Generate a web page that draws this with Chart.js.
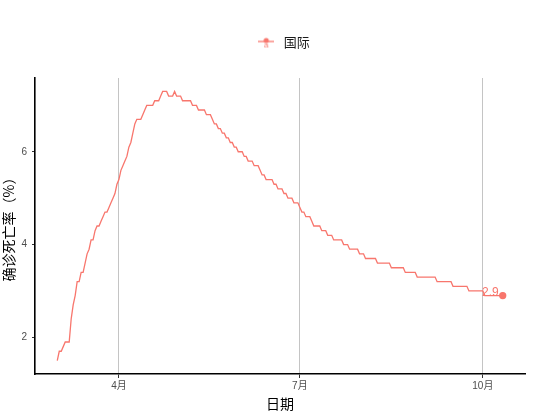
<!DOCTYPE html>
<html>
<head>
<meta charset="utf-8">
<script src="https://cdn.jsdelivr.net/npm/chart.js@4/dist/chart.umd.min.js"></script>
<style>
html,body{margin:0;padding:0;background:#fff;}
</style>
</head>
<body>
<canvas id="cfrChart" width="550" height="412"></canvas>
<script>
// 确诊死亡率（%）, 国际, daily from 3月1日 (day 0)
const seriesName = "国际";
const rateMar = [1.5,1.7,1.7,1.8,1.9,1.9,1.9,2.4,2.7,2.9,3.2,3.2,3.4,3.4,3.6,3.8,3.9,4.1,4.1,4.3,4.4,4.4,4.5,4.6,4.7,4.7,4.8,4.9,5.0,5.1,5.3];
const rateApr = [5.4,5.6,5.7,5.8,5.9,6.1,6.2,6.4,6.6,6.7,6.7,6.7,6.8,6.9,7.0,7.0,7.0,7.0,7.1,7.1,7.1,7.2,7.3,7.3,7.3,7.2,7.2,7.2,7.3,7.2];
const rateMay = [7.2,7.2,7.1,7.1,7.1,7.1,7.1,7.0,7.0,7.0,6.9,6.9,6.9,6.9,6.8,6.8,6.8,6.7,6.6,6.6,6.5,6.5,6.4,6.4,6.3,6.3,6.2,6.2,6.1,6.1,6.0];
const rateJun = [6.0,6.0,5.9,5.9,5.8,5.8,5.8,5.7,5.7,5.7,5.6,5.5,5.5,5.4,5.4,5.4,5.4,5.3,5.3,5.2,5.2,5.2,5.1,5.1,5.0,5.0,5.0,4.9,4.9,4.9];
const rateJul = [4.8,4.7,4.7,4.6,4.6,4.6,4.5,4.4,4.4,4.4,4.4,4.3,4.3,4.3,4.2,4.2,4.2,4.1,4.1,4.1,4.1,4.1,4.0,4.0,4.0,3.9,3.9,3.9,3.9,3.9,3.8];
const rateAug = [3.8,3.8,3.7,3.7,3.7,3.7,3.7,3.7,3.6,3.6,3.6,3.6,3.6,3.6,3.6,3.5,3.5,3.5,3.5,3.5,3.5,3.5,3.4,3.4,3.4,3.4,3.4,3.4,3.3,3.3,3.3];
const rateSep = [3.3,3.3,3.3,3.3,3.3,3.3,3.3,3.2,3.2,3.2,3.2,3.2,3.2,3.2,3.2,3.1,3.1,3.1,3.1,3.1,3.1,3.1,3.1,3.0,3.0,3.0,3.0,3.0,3.0,3.0];
const rateOct = [3.0,2.9,2.9,2.9,2.9,2.9,2.9,2.9,2.9,2.9,2.9];

const monthTicks = [31, 122, 214];   // 4月1日, 7月1日, 10月1日 as day numbers
const monthLabels = ["4月", "7月", "10月"];
const yTicks = [2, 4, 6];

const RED = "#F8766D";
const rate = [].concat(rateMar, rateApr, rateMay, rateJun, rateJul, rateAug, rateSep, rateOct);
const points = rate.map((v, i) => ({x: i, y: v}));
const last = rate.length - 1;

// ggplot-ish padding of 5% around the data
const xPad = last * 0.05;
const yMin = Math.min(...rate), yMax = Math.max(...rate);
const yPad = (yMax - yMin) * 0.05;

// legend key: line + point + "a"
const key = document.createElement("canvas");
key.width = 16; key.height = 14;
(function(){
    const c = key.getContext("2d");
    c.strokeStyle = RED; c.lineWidth = 1.3;
    c.beginPath(); c.moveTo(0, 6); c.lineTo(16, 6); c.stroke();
    c.fillStyle = RED;
    c.beginPath(); c.arc(8, 5, 2.6, 0, Math.PI*2); c.fill();
    c.font = "8px 'Liberation Sans'"; c.textAlign = "center"; c.textBaseline = "middle";
    c.fillText("a", 8, 10);
})();

const legendTweak = {
    id: "legendTweak",
    afterInit(chart){
        const lg = chart.legend;
        const fit = lg.fit;
        lg.fit = function(){ fit.call(this); this.height = 78; };
        const draw = lg.draw;
        lg.draw = function(){
            const ctx = this.ctx;
            ctx.save(); ctx.translate(20, 0);
            draw.apply(this, arguments);
            ctx.restore();
        };
    }
};

const endLabel = {
    id: "endLabel",
    afterDatasetsDraw(chart){
        const pt = chart.getDatasetMeta(0).data[last];
        const ctx = chart.ctx;
        ctx.save();
        ctx.fillStyle = RED;
        ctx.font = "12px 'Liberation Sans'";
        ctx.textAlign = "right";
        ctx.textBaseline = "middle";
        ctx.fillText(rate[last].toFixed(1), pt.x - 4, pt.y - 3);
        ctx.restore();
    }
};

const tickFont = {family: "'Liberation Sans', 'Noto Sans CJK SC'", size: 10};
const titleFont = {family: "'Noto Sans CJK SC'", size: 14};

new Chart(document.getElementById("cfrChart"), {
    type: "line",
    data: {
        datasets: [{
            label: seriesName,
            data: points,
            borderColor: RED,
            backgroundColor: RED,
            borderWidth: 1.3,
            pointRadius: rate.map((v, i) => i === last ? 3 : 0),
            pointHoverRadius: 0,
            tension: 0
        }]
    },
    options: {
        responsive: false,
        animation: false,
        layout: {padding: {top: 0, right: 25, left: 0, bottom: 0}},
        plugins: {
            tooltip: {enabled: false},
            legend: {
                position: "top",
                labels: {
                    usePointStyle: true,
                    pointStyle: key,
                    pointStyleWidth: 22,
                    padding: 36,
                    color: "#1a1a1a",
                    font: {family: "'Noto Sans CJK SC'", size: 13}
                }
            }
        },
        scales: {
            x: {
                type: "linear",
                min: -xPad,
                max: last + xPad,
                afterBuildTicks: s => { s.ticks = monthTicks.map(v => ({value: v})); },
                afterFit: s => { s.height = 38; },
                ticks: {
                    callback: v => monthLabels[monthTicks.indexOf(v)],
                    color: "#4d4d4d",
                    font: tickFont,
                    padding: 2,
                    maxRotation: 0,
                    autoSkip: false
                },
                grid: {color: "#c4c4c4", lineWidth: 1, tickColor: "#333", tickLength: 4},
                border: {color: "#000", width: 1.6},
                title: {display: true, text: "日期", color: "#000", font: titleFont, padding: {top: 0, bottom: 0}}
            },
            y: {
                min: yMin - yPad,
                max: yMax + yPad,
                afterBuildTicks: s => { s.ticks = yTicks.map(v => ({value: v})); },
                afterFit: s => { s.width = 35; },
                ticks: {color: "#4d4d4d", font: tickFont, padding: 5},
                grid: {drawOnChartArea: false, tickColor: "#333", tickLength: 3},
                border: {color: "#000", width: 1.6},
                title: {display: true, text: "确诊死亡率（%）", color: "#000", font: titleFont, padding: {top: 0, bottom: 0}}
            }
        }
    },
    plugins: [legendTweak, endLabel]
});
</script>
</body>
</html>
